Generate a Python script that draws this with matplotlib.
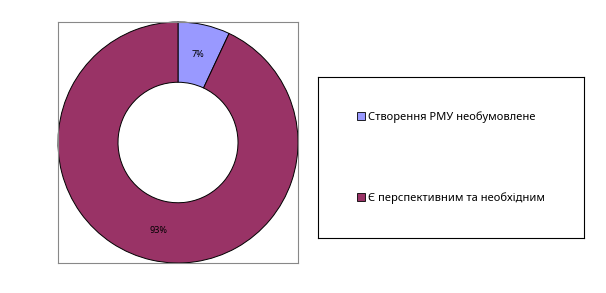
import matplotlib.pyplot as plt
from matplotlib.patches import Patch

### Data
labels = ["Створення РМУ необумовлене", "Є перспективним та необхідним"]
values = [7, 93]
colors = ["#9999FF", "#993366"]

W, H = 606, 293
plt.rcParams['font.family'] = ['Noto Sans', 'DejaVu Sans']

fig = plt.figure(figsize=(W / 100, H / 100), dpi=100)

# pie panel (pixel box -> figure fractions)
ax = fig.add_axes([58 / W, (H - 263) / H, 240 / W, 241 / H])
wedges, texts, autotexts = ax.pie(values, colors=colors, startangle=90, counterclock=False,
                                  radius=1.0, autopct='%d%%', pctdistance=0.75,
                                  wedgeprops=dict(width=0.5, edgecolor='black', linewidth=0.7),
                                  textprops=dict(fontsize=6.5, color='black'))
ax.set_xlim(-1.0, 1.0)
ax.set_ylim(-1.0, 1.0)
ax.set_aspect('auto')
ax.set_frame_on(True)
ax.set_xticks([])
ax.set_yticks([])
for s in ax.spines.values():
    s.set_visible(True)
    s.set_color('#888888')
    s.set_linewidth(0.8)

# legend panel
ax_leg = fig.add_axes([318 / W, (H - 238) / H, 266 / W, 161 / H])
ax_leg.set_xticks([])
ax_leg.set_yticks([])
for s in ax_leg.spines.values():
    s.set_color('black')
    s.set_linewidth(0.8)
handles = [Patch(facecolor=c, edgecolor='black', linewidth=0.6) for c in colors]
ax_leg.legend(handles, labels, loc='center left', bbox_to_anchor=(0.125, 0.5), frameon=False,
              fontsize=8, handlelength=0.7, handleheight=0.7, handletextpad=0.3,
              labelspacing=6.2, borderpad=0)

fig.savefig("out.png", dpi=100)
